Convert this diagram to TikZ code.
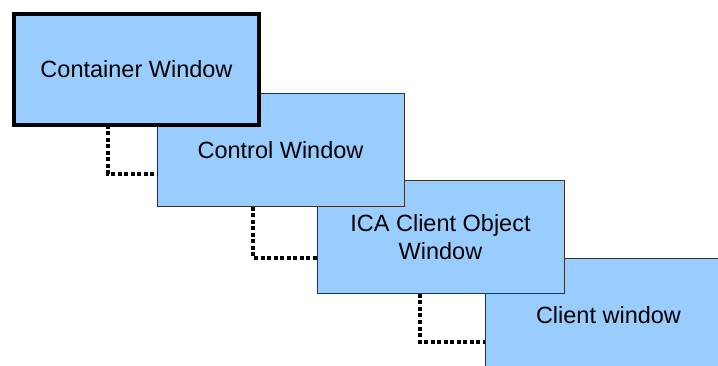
\documentclass[tikz,border=0pt]{standalone}
\usepackage{fontspec}
\setmainfont{Liberation Sans}
\definecolor{winfill}{HTML}{99CCFF}
\definecolor{winline}{HTML}{333333}
\begin{document}
\begin{tikzpicture}[x=1pt,y=-1pt,
  win/.style={draw=winline, line width=1pt, fill=winfill, outer sep=0pt,
    anchor=north west, minimum width=247pt, minimum height=113pt,
    align=center, font=\fontsize{23.5}{28}\selectfont},
  mainwin/.style={win, draw=black, line width=4pt,
    minimum width=245pt, minimum height=111pt},
  link/.style={draw=black, line width=3.4pt, dash pattern=on 4pt off 2.5pt}]
  \useasboundingbox (0,0) rectangle (718,366);
  \clip (0,0) rectangle (718,366);
  % windows, the innermost first so each parent lies on top
  \node[win] (client) at (485,259) {Client window};
  \node[win] (ica) at (317,181) {ICA Client Object\\Window};
  \node[win] (control) at (157,94) {Control Window};
  \node[mainwin] (container) at (14,14) {Container Window};
  % parent-child links
  \draw[link] ([xshift=94pt]container.south west) |- ([yshift=-80pt]control.north west);
  \draw[link] ([xshift=96pt]control.south west) |- ([yshift=-77pt]ica.north west);
  \draw[link] ([xshift=103pt]ica.south west) |- ([yshift=-83pt]client.north west);
\end{tikzpicture}
\end{document}
